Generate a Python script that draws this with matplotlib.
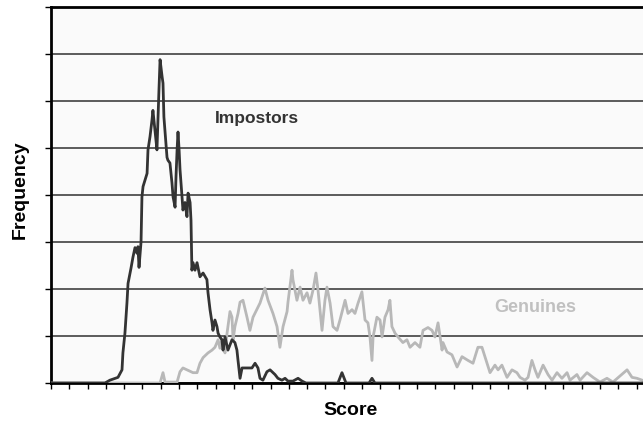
import numpy as np
import matplotlib
matplotlib.use("Agg")
import matplotlib.pyplot as plt

# score (tick units) and frequency
imp_score = [0.0, 2.95, 3.22, 3.66, 3.88, 3.93, 4.04, 4.15, 4.21, 4.37, 4.48, 4.59, 4.70, 4.75, 4.81,
             4.92, 4.97, 5.03, 5.25, 5.30, 5.41, 5.52, 5.57, 5.68, 5.79, 5.85, 5.90, 5.96, 6.07,
             6.12, 6.17, 6.28, 6.34, 6.39, 6.50, 6.61, 6.67, 6.78, 6.83, 6.89, 6.94, 7.00, 7.05,
             7.16, 7.21, 7.32, 7.43, 7.49, 7.60, 7.65, 7.70, 7.76, 7.87, 7.98, 8.14, 8.31, 8.52,
             8.58, 8.69, 8.80, 8.85, 8.96, 9.07, 9.13, 9.23, 9.34, 9.40, 9.51, 9.67, 9.89, 10.05,
             10.16, 10.22, 10.33, 10.44, 10.71, 10.98, 11.15, 11.31, 11.42, 11.58, 11.80, 11.97,
             12.24, 12.40, 12.62, 12.79, 12.95, 13.22, 13.50, 13.72, 13.93, 15.68, 15.90, 16.12,
             17.38, 17.54, 17.70, 32.4]
imp_freq = [0, 0, 3, 6, 14, 32, 53, 85, 106, 122, 134, 144, 138, 145, 123,
            150, 198, 209, 223, 248, 262, 280, 290, 269, 248, 283, 312, 344, 326,
            319, 283, 255, 240, 237, 234, 213, 198, 187, 219, 248, 267, 248, 227,
            198, 184, 192, 177, 202, 192, 173, 120, 128, 120, 128, 113, 117, 110,
            96, 78, 64, 56, 67, 60, 53, 49, 46, 35, 49, 35, 46, 43,
            35, 24, 5, 16, 16, 16, 21, 16, 5, 3, 12, 14,
            9, 5, 3, 5, 2, 2, 5, 2, 0, 0, 11, 0,
            0, 5, 0, 0]

gen_score = [0.0, 5.96, 6.12, 6.23, 6.89, 7.05, 7.21, 7.76, 7.98, 8.14, 8.31, 8.58, 8.80, 8.96,
             9.13, 9.23, 9.34, 9.40, 9.51, 9.62, 9.67, 9.78, 9.89, 9.95, 10.05, 10.22, 10.33,
             10.49, 10.71, 10.87, 11.04, 11.42, 11.69, 11.86, 12.13, 12.35, 12.51, 12.68, 12.90,
             12.95, 13.17, 13.22, 13.44, 13.61, 13.77, 13.99, 14.15, 14.32, 14.48, 14.59, 14.81,
             14.97, 15.08, 15.25, 15.41, 15.63, 15.79, 16.07, 16.23, 16.45, 16.61, 16.78, 16.99,
             17.16, 17.32, 17.43, 17.54, 17.60, 17.81, 17.98, 18.09, 18.25, 18.42, 18.52, 18.63,
             18.80, 18.96, 19.23, 19.45, 19.62, 19.89, 20.16, 20.33, 20.60, 20.82, 20.98, 21.15,
             21.37, 21.42, 21.64, 21.91, 22.19, 22.46, 22.79, 23.06, 23.33, 23.55, 23.83, 23.99,
             24.26, 24.43, 24.64, 24.92, 25.19, 25.46, 25.63, 25.90, 26.07, 26.28, 26.45, 26.61,
             26.89, 27.16, 27.38, 27.65, 27.92, 28.20, 28.36, 28.74, 28.91, 29.29, 29.62, 30.00,
             30.38, 30.71, 31.48, 31.75, 32.02, 32.30]
gen_freq = [0, 0, 11, 1, 1, 12, 16, 11, 11, 21, 27, 32, 35, 38,
            46, 37, 46, 38, 32, 53, 60, 76, 70, 46, 60, 74, 86,
            88, 70, 56, 70, 85, 101, 88, 74, 60, 38, 60, 76,
            86, 120, 110, 88, 102, 88, 96, 85, 99, 117, 99, 56,
            88, 102, 85, 60, 56, 67, 88, 74, 78, 74, 85, 97,
            67, 64, 49, 24, 49, 70, 67, 49, 70, 78, 88, 60,
            53, 49, 43, 46, 38, 43, 38, 56, 59, 56, 49, 64,
            35, 43, 33, 30, 17, 28, 24, 21, 38, 38, 21, 11,
            19, 14, 19, 6, 14, 11, 6, 3, 6, 24, 14, 6,
            19, 9, 3, 11, 5, 11, 3, 9, 3, 11, 6, 1,
            5, 1, 14, 6, 5, 3]

fig = plt.figure(figsize=(6.43, 4.23), dpi=100)
ax = fig.add_axes([51 / 643, 40 / 423, 1 - 51 / 643, 376 / 423])
ax.set_facecolor("#fafafa")

ax.set_xlim(0, 32.35)
ax.set_ylim(0, 400)
ax.set_xticks(np.arange(0, 33, 1))
ax.set_yticks(np.arange(0, 401, 50))
ax.tick_params(axis="both", direction="out", length=4, width=1, colors="black",
               labelleft=False, labelbottom=False)
ax.yaxis.grid(True, color="#404040", linewidth=1.2)
ax.set_axisbelow(True)

for side in ["left", "bottom", "top"]:
    ax.spines[side].set_linewidth(2)
    ax.spines[side].set_color("black")
ax.spines["right"].set_visible(False)

ax.plot(gen_score, gen_freq, color="#b8b8b8", linewidth=2, zorder=3)
ax.plot(imp_score, imp_freq, color="#333333", linewidth=2, zorder=4)

ax.text(257 / 643 * 0 + (257 - 51) / 592 * 32.35, (383 - 118) / 376 * 400, "Impostors",
        ha="center", va="center", fontsize=12.5, fontweight="bold", color="#333333",
        family="Liberation Sans")
ax.text((535 - 51) / 592 * 32.35, (383 - 308) / 376 * 400, "Genuines",
        ha="center", va="center", fontsize=13, fontweight="bold", color="#c0c0c0",
        family="Liberation Sans")

fig.text(20 / 643, 1 - 190 / 423, "Frequency", rotation=90, ha="center", va="center",
         fontsize=14, fontweight="bold", family="Liberation Sans")
fig.text(350 / 643, 1 - 410 / 423, "Score", ha="center", va="center",
         fontsize=14, fontweight="bold", family="Liberation Sans")

fig.savefig("out.png", dpi=100)
